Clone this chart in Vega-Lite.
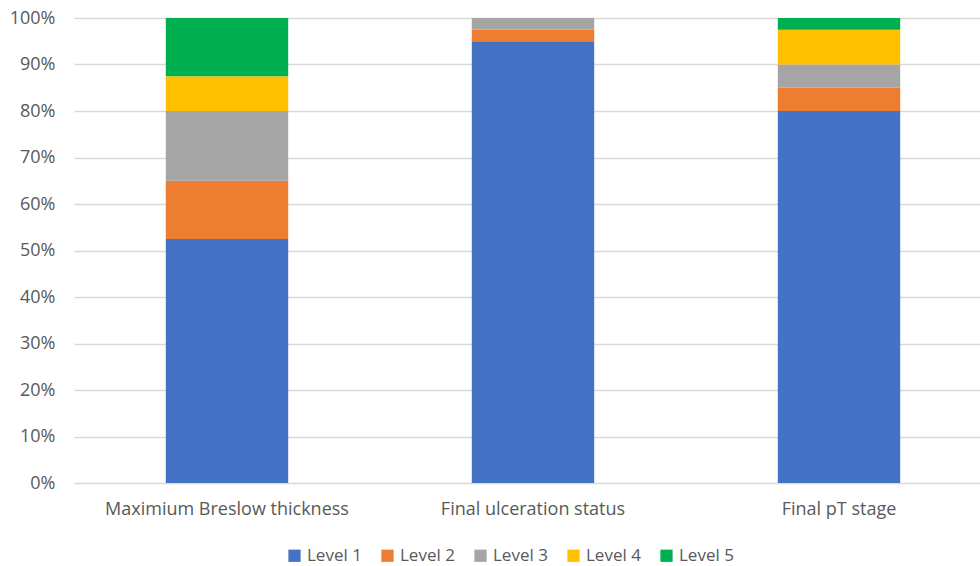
{
  "$schema": "https://vega.github.io/schema/vega-lite/v6.json",
  "autosize": {"type": "none"},
  "padding": {"left": 74, "top": 18, "right": 0, "bottom": 83},
  "width": 918,
  "height": 465,
  "background": "white",
  "data": {"values": [
    {"category": "Maximium Breslow thickness", "level": "Level 1", "ord": 1, "value": 0.525},
    {"category": "Maximium Breslow thickness", "level": "Level 2", "ord": 2, "value": 0.125},
    {"category": "Maximium Breslow thickness", "level": "Level 3", "ord": 3, "value": 0.15},
    {"category": "Maximium Breslow thickness", "level": "Level 4", "ord": 4, "value": 0.075},
    {"category": "Maximium Breslow thickness", "level": "Level 5", "ord": 5, "value": 0.125},
    {"category": "Final ulceration status", "level": "Level 1", "ord": 1, "value": 0.95},
    {"category": "Final ulceration status", "level": "Level 2", "ord": 2, "value": 0.025},
    {"category": "Final ulceration status", "level": "Level 3", "ord": 3, "value": 0.025},
    {"category": "Final ulceration status", "level": "Level 4", "ord": 4, "value": 0},
    {"category": "Final ulceration status", "level": "Level 5", "ord": 5, "value": 0},
    {"category": "Final pT stage", "level": "Level 1", "ord": 1, "value": 0.80},
    {"category": "Final pT stage", "level": "Level 2", "ord": 2, "value": 0.05},
    {"category": "Final pT stage", "level": "Level 3", "ord": 3, "value": 0.05},
    {"category": "Final pT stage", "level": "Level 4", "ord": 4, "value": 0.075},
    {"category": "Final pT stage", "level": "Level 5", "ord": 5, "value": 0.025}
  ]},
  "mark": {"type": "bar"},
  "encoding": {
    "x": {
      "field": "category", "type": "nominal", "sort": null,
      "scale": {"paddingInner": 0.6, "paddingOuter": 0.3},
      "axis": {"title": null, "labelAngle": 0, "ticks": false, "domain": false, "labelPadding": 17, "labelFontSize": 18, "labelLimit": 0, "labelColor": "#595959", "labelFont": "Open Sans"}
    },
    "y": {
      "field": "value", "type": "quantitative", "stack": "zero",
      "scale": {"domain": [0, 1], "nice": false},
      "axis": {"title": null, "format": ".0%", "values": [0, 0.1, 0.2, 0.3, 0.4, 0.5, 0.6, 0.7, 0.8, 0.9, 1], "ticks": false, "domain": false, "gridColor": "#d9d9d9", "gridWidth": 1.3, "labelPadding": 19, "labelFontSize": 18, "labelColor": "#595959", "labelFont": "Open Sans"}
    },
    "color": {
      "field": "level", "type": "nominal",
      "scale": {"domain": ["Level 1", "Level 2", "Level 3", "Level 4", "Level 5"], "range": ["#4472C4", "#ED7D31", "#A5A5A5", "#FFC000", "#00B050"]},
      "legend": {"title": null, "orient": "none", "direction": "horizontal", "legendX": 212, "legendY": 529, "symbolType": "square", "symbolSize": 150, "symbolStrokeWidth": 0, "labelFontSize": 17, "labelColor": "#595959", "labelFont": "Open Sans", "columnPadding": 17, "labelOffset": 4}
    },
    "order": {"field": "ord", "type": "quantitative"}
  },
  "config": {"view": {"stroke": null}}
}
